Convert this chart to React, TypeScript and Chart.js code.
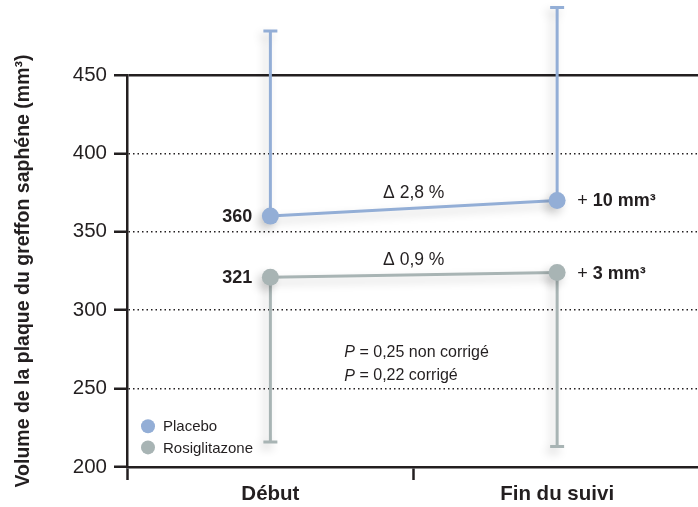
import React, { useEffect, useRef } from "react";
import { Chart, registerables } from "chart.js";

Chart.register(...registerables);

// ---- Data ----
const categories = ["Début", "Fin du suivi"];
const seriesNames = ["Placebo", "Rosiglitazone"];
const placeboMeans = [360, 370];
const rosiMeans = [321, 324];
const placeboUpper = [478, 493];
const rosiLower = [216, 213];
const yTickValues = [200, 250, 300, 350, 400, 450];
const startLabels = ["360", "321"];
const deltaLabels = ["Δ 2,8 %", "Δ 0,9 %"];
const changeLabels = ["10 mm³", "3 mm³"];
const pValueLines = [" = 0,25 non corrigé", " = 0,22 corrigé"];
const pValueY = [273, 258];
const legendY = [226, 212.5];
const yTitle = "Volume de la plaque du greffon saphéne (mm³)";

const BLUE = "#93aed6";
const GRAY = "#a8b4b4";
const INK = "#231f20";
const FONT = "'Liberation Sans', Arial, Helvetica, sans-serif";

function setShadow(ctx: CanvasRenderingContext2D) {
  ctx.shadowColor = "rgba(0,0,0,0.2)";
  ctx.shadowBlur = 10;
  ctx.shadowOffsetX = -4;
  ctx.shadowOffsetY = 5;
}

const overlayPlugin = {
  id: "overlay",
  beforeDatasetsDraw(chart: any) {
    const { ctx } = chart;
    const xs = chart.scales.x;
    const ys = chart.scales.y;
    ctx.save();
    setShadow(ctx);
    ctx.lineWidth = 3;
    ctx.lineCap = "butt";
    const drawBar = (i: number, from: number, to: number, color: string) => {
      const px = xs.getPixelForValue(i);
      const y0 = ys.getPixelForValue(from);
      const y1 = ys.getPixelForValue(to);
      ctx.strokeStyle = color;
      ctx.beginPath();
      ctx.moveTo(px, y0);
      ctx.lineTo(px, y1);
      ctx.moveTo(px - 7, y1);
      ctx.lineTo(px + 7, y1);
      ctx.stroke();
    };
    for (let i = 0; i < categories.length; i++) {
      drawBar(i, placeboMeans[i], placeboUpper[i], BLUE);
      drawBar(i, rosiMeans[i], rosiLower[i], GRAY);
    }
    ctx.restore();
    ctx.save();
    setShadow(ctx);
  },
  afterDatasetsDraw(chart: any) {
    const { ctx } = chart;
    ctx.restore();
    const xs = chart.scales.x;
    const ys = chart.scales.y;
    const series = [placeboMeans, rosiMeans];
    ctx.save();
    ctx.fillStyle = INK;
    ctx.textBaseline = "middle";
    series.forEach((vals, s) => {
      const x0 = xs.getPixelForValue(0);
      const x1 = xs.getPixelForValue(1);
      const y0 = ys.getPixelForValue(vals[0]);
      const y1 = ys.getPixelForValue(vals[1]);
      // start value
      ctx.font = `bold 18px ${FONT}`;
      ctx.textAlign = "right";
      ctx.fillText(startLabels[s], x0 - 18, y0 + 1);
      // delta
      ctx.font = `17.5px ${FONT}`;
      ctx.textAlign = "center";
      ctx.fillText(deltaLabels[s], (x0 + x1) / 2, (y0 + y1) / 2 - 15);
      // change
      ctx.textAlign = "left";
      ctx.font = `18px ${FONT}`;
      const plus = "+ ";
      ctx.fillText(plus, x1 + 20, y1 + 1);
      const w = ctx.measureText(plus).width;
      ctx.font = `bold 18px ${FONT}`;
      ctx.fillText(changeLabels[s], x1 + 20 + w, y1 + 1);
    });
    // p values
    const px = xs.getPixelForValue(0.258);
    pValueLines.forEach((t, i) => {
      const py = ys.getPixelForValue(pValueY[i]);
      ctx.textAlign = "left";
      ctx.font = `italic 16px ${FONT}`;
      ctx.fillText("P", px, py);
      const w = ctx.measureText("P").width;
      ctx.font = `16px ${FONT}`;
      ctx.fillText(t, px + w, py);
    });
    // legend
    const lx = chart.chartArea.left + 21;
    const colors = [BLUE, GRAY];
    seriesNames.forEach((name, i) => {
      const ly = ys.getPixelForValue(legendY[i]);
      ctx.beginPath();
      ctx.fillStyle = colors[i];
      ctx.arc(lx, ly, 7, 0, Math.PI * 2);
      ctx.fill();
      ctx.fillStyle = INK;
      ctx.font = `15px ${FONT}`;
      ctx.textAlign = "left";
      ctx.fillText(name, lx + 15, ly + 1);
    });
    ctx.restore();
  },
};

export default function App() {
  const ref = useRef<HTMLCanvasElement | null>(null);
  useEffect(() => {
    document.body.style.margin = "0";
    if (!ref.current) return;
    Chart.defaults.font.family = FONT;
    const chart = new Chart(ref.current, {
      type: "line",
      data: {
        labels: categories,
        datasets: [
          {
            label: seriesNames[0],
            data: placeboMeans,
            borderColor: BLUE,
            backgroundColor: BLUE,
            pointBackgroundColor: BLUE,
            pointBorderWidth: 0,
            pointRadius: 8.5,
            borderWidth: 3,
            clip: false as any,
          },
          {
            label: seriesNames[1],
            data: rosiMeans,
            borderColor: GRAY,
            backgroundColor: GRAY,
            pointBackgroundColor: GRAY,
            pointBorderWidth: 0,
            pointRadius: 8.5,
            borderWidth: 3,
            clip: false as any,
          },
        ],
      },
      options: {
        animation: false,
        responsive: false,
        maintainAspectRatio: false,
        layout: { padding: { top: 75, right: 0, left: 0, bottom: 0 } },
        plugins: { legend: { display: false }, tooltip: { enabled: false } },
        scales: {
          x: {
            type: "category",
            offset: true,
            afterFit: (s: any) => {
              s.height = 40;
              s.paddingLeft = 0;
              s.paddingRight = 0;
            },
            grid: {
              offset: true,
              drawOnChartArea: false,
              tickLength: 13,
              tickWidth: 2.5,
              tickColor: (c: any) => (c.index === 2 ? "rgba(0,0,0,0)" : INK),
            },
            border: { display: true, color: INK, width: 2.5 },
            ticks: { color: INK, font: { size: 20.5, weight: "bold" }, padding: 2 },
          },
          y: {
            min: 200,
            max: 450,
            afterFit: (s: any) => {
              s.width = 127;
            },
            afterBuildTicks: (s: any) => {
              s.ticks = yTickValues.map((v) => ({ value: v }));
            },
            grid: {
              color: INK,
              lineWidth: (c: any) => (c.tick && c.tick.value === 450 ? 2.5 : 1.5),
              tickLength: 13,
              tickWidth: 2.5,
              tickColor: INK,
            },
            border: {
              display: true,
              color: INK,
              width: 2.5,
              dash: (c: any) =>
                c.tick && c.tick.value !== 450 && c.tick.value !== 200 ? [1.5, 3] : [],
            },
            ticks: { color: INK, font: { size: 20.5 }, padding: 7 },
            title: {
              display: true,
              text: yTitle,
              color: INK,
              font: { size: 19.5, weight: "bold" },
              padding: { top: 12, bottom: 0 },
            },
          },
        },
      },
      plugins: [overlayPlugin],
    });
    return () => chart.destroy();
  }, []);
  return (
    <div
      style={{
        position: "fixed",
        left: 0,
        top: 0,
        width: 698,
        height: 507,
        overflow: "hidden",
        background: "#fff",
      }}
    >
      <canvas ref={ref} width={709} height={507} style={{ width: 709, height: 507, display: "block" }} />
    </div>
  );
}
